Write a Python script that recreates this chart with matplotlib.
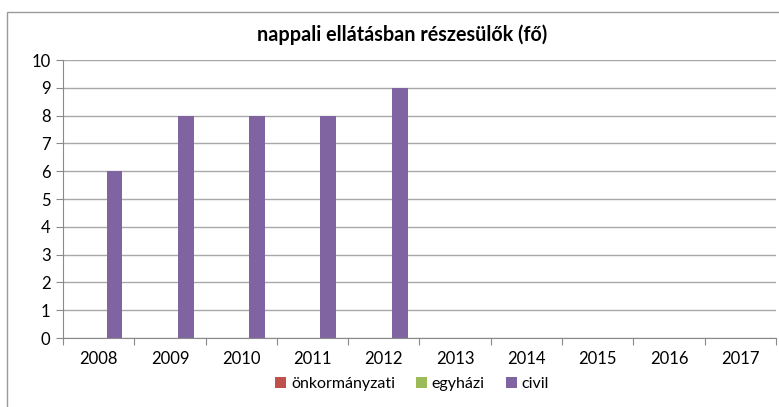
import matplotlib.pyplot as plt
import numpy as np
from matplotlib.patches import Rectangle

years = ['2008', '2009', '2010', '2011', '2012', '2013', '2014', '2015', '2016', '2017']
onkormanyzati = [0, 0, 0, 0, 0, 0, 0, 0, 0, 0]
egyhazi = [0, 0, 0, 0, 0, 0, 0, 0, 0, 0]
civil = [6, 8, 8, 8, 9, 0, 0, 0, 0, 0]

plt.rcParams['font.family'] = ['Lato', 'DejaVu Sans']

fig = plt.figure(figsize=(7.79, 4.07), dpi=100)
ax = fig.add_axes([0.081, 0.1695, 0.915, 0.683])

# outer chart frame (cut off at right and bottom like the original)
fig.patches.append(Rectangle((7 / 779, -0.1), 1.2, 1 - 12 / 407 + 0.1,
                             transform=fig.transFigure, fill=False,
                             edgecolor='#9a9a9a', linewidth=1))

x = np.arange(len(years))
w = 1 / 4.5
ax.bar(x - w, onkormanyzati, w, color='#C0504D', label='önkormányzati')
ax.bar(x, egyhazi, w, color='#9BBB59', label='egyházi')
ax.bar(x + w, civil, w, color='#8064A2', label='civil')

ax.set_xlim(-0.5, len(years) - 0.5)
ax.set_ylim(0, 10)
ax.set_yticks(range(0, 11))
ax.yaxis.grid(True, color='#a8a8a8', linewidth=1)
ax.set_axisbelow(True)

ax.set_xticks(np.arange(-0.5, len(years), 1), minor=False)
ax.set_xticklabels([])
ax.set_xticks(x, minor=True)
ax.set_xticklabels(years, minor=True)
ax.tick_params(axis='x', which='minor', length=0, pad=9, labelsize=12)
ax.tick_params(axis='x', which='major', length=5, color='#8a8a8a')
ax.tick_params(axis='y', length=5, color='#8a8a8a', labelsize=12, pad=4)

for s in ['top', 'right']:
    ax.spines[s].set_visible(False)
ax.spines['left'].set_color('#8a8a8a')
ax.spines['bottom'].set_color('#8a8a8a')

fig.text(0.516, 1 - 35 / 407, 'nappali ellátásban részesülők (fő)', ha='center', va='center',
         fontsize=14.2, fontweight='bold')

ax.legend(loc='center', bbox_to_anchor=(412 / 779, 1 - 384 / 407), bbox_transform=fig.transFigure,
          ncol=3, frameon=False, fontsize=11.5, handlelength=0.7, handleheight=0.7,
          handletextpad=0.3, columnspacing=1.3)

fig.savefig('out.png', dpi=100)
